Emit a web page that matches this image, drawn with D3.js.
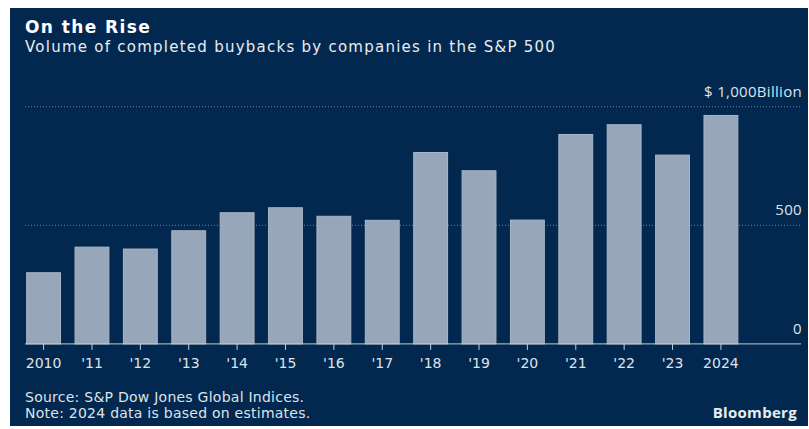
<!DOCTYPE html>
<html>
<head>
<meta charset="utf-8">
<script src="https://cdn.jsdelivr.net/npm/d3@7"></script>
<style>
  body { margin: 0; background: #fff; }
  svg { display: block; }
</style>
</head>
<body>
<div id="svg-container"></div>
<script>
// data
const years = ['2010', "'11", "'12", "'13", "'14", "'15", "'16", "'17", "'18", "'19", "'20", "'21", "'22", "'23", '2024']
const buybacks = [300, 408, 400, 477, 553, 574, 538, 521, 807, 730, 522, 883, 924, 796, 963]
const yTicks = [0, 500, 1000]
const yTickLabels = ['0', '500', '$ 1,000Billion']

const width = 809
const height = 429

const svg = d3.select('#svg-container')
    .append('svg').attr('width', width).attr('height', height)

// navy panel
svg.append('rect')
    .attr('x', 10).attr('y', 8)
    .attr('width', 798).attr('height', 418)
    .attr('fill', '#03284f')

// titles
svg.append('text')
    .attr('x', 25).attr('y', 33)
    .attr('fill', '#ffffff')
    .style('font', 'bold 17px "DejaVu Sans"')
    .style('letter-spacing', '1.4px')
    .text('On the Rise')
svg.append('text')
    .attr('x', 25).attr('y', 52)
    .attr('fill', '#e8ecf1')
    .style('font', '15px "DejaVu Sans"')
    .style('letter-spacing', '1.25px')
    .text('Volume of completed buybacks by companies in the S&P 500')

const data = years.map((y, i) => ({ year: y, value: buybacks[i] }))

// scales
const xScale = d3.scaleBand()
    .domain(years)
    .range([19.4, 745.1])
    .paddingInner(0.3)
    .paddingOuter(0.15)
const yScale = d3.scaleLinear()
    .domain([0, 1000])
    .range([343.9, 106.7])

const lineLeft = 25
const lineRight = 801

// dotted gridlines (behind the bars)
svg.append('g').selectAll('line')
    .data(yTicks.filter(d => d > 0))
    .enter().append('line')
    .attr('x1', lineLeft).attr('x2', lineRight)
    .attr('y1', d => yScale(d)).attr('y2', d => yScale(d))
    .attr('stroke', '#6e84a0')
    .attr('stroke-width', 1)
    .attr('stroke-dasharray', '1,2')

// y labels above the gridlines
svg.append('g').selectAll('text')
    .data(yTicks)
    .enter().append('text')
    .attr('x', 802)
    .attr('y', d => yScale(d) - 10)
    .attr('text-anchor', 'end')
    .attr('fill', '#dde3ea')
    .style('font', '15px "Open Sans"')
    .style('letter-spacing', '0.3px')
    .text((d, i) => yTickLabels[i])

// bars
svg.append('g').selectAll('rect')
    .data(data)
    .enter().append('rect')
    .attr('x', d => xScale(d.year))
    .attr('y', d => yScale(d.value))
    .attr('width', xScale.bandwidth())
    .attr('height', d => yScale(0) - yScale(d.value))
    .attr('fill', '#97a6b8')
    .attr('stroke', '#a9b6c5')
    .attr('stroke-width', 1)

// x axis
const xAxis = svg.append('g')
    .attr('transform', `translate(0, ${yScale(0)})`)
    .call(d3.axisBottom(xScale).tickSize(6).tickPadding(8))
xAxis.select('.domain').remove()
xAxis.selectAll('.tick line').attr('stroke', '#c3ccd7')
xAxis.selectAll('.tick text')
    .attr('fill', '#dde3ea')
    .style('font', '14px "DejaVu Sans"')

svg.append('line')
    .attr('x1', lineLeft).attr('x2', lineRight)
    .attr('y1', yScale(0)).attr('y2', yScale(0))
    .attr('stroke', '#c3ccd7')
    .attr('stroke-width', 1)

// source and note
svg.append('text')
    .attr('x', 25).attr('y', 402)
    .attr('fill', '#dde3ea')
    .style('font', '14px "DejaVu Sans"')
    .style('letter-spacing', '0.25px')
    .text('Source: S&P Dow Jones Global Indices.')
svg.append('text')
    .attr('x', 25).attr('y', 418)
    .attr('fill', '#dde3ea')
    .style('font', '14px "DejaVu Sans"')
    .style('letter-spacing', '0.25px')
    .text('Note: 2024 data is based on estimates.')

svg.append('text')
    .attr('x', 797).attr('y', 418)
    .attr('text-anchor', 'end')
    .attr('fill', '#e8ecf1')
    .style('font', 'bold 15px "Open Sans"')
    .style('letter-spacing', '0.3px')
    .text('Bloomberg')
</script>
</body>
</html>
